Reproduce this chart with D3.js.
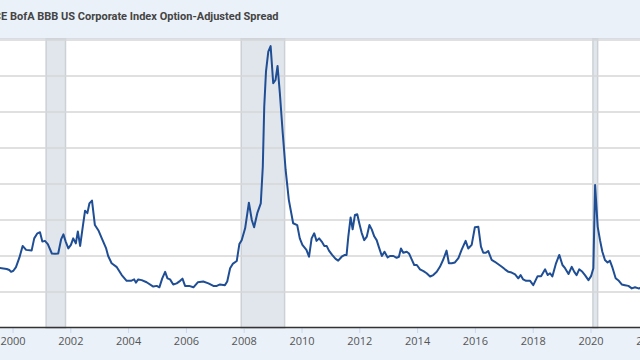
<!DOCTYPE html>
<html>
<head>
<meta charset="utf-8">
<script src="https://cdn.jsdelivr.net/npm/d3@7"></script>
<style>
  html, body { margin: 0; padding: 0; background: #eaf1f9; }
  svg { display: block; }
</style>
</head>
<body>
<div id="chart-container"></div>
<script>
// --- 1. DATA ---
const chartTitle = "ICE BofA BBB US Corporate Index Option-Adjusted Spread";

// decimal years
const dates = [
  1999.55, 1999.80, 1999.89, 1999.95, 2000.03, 2000.12, 2000.24, 2000.35, 2000.47, 2000.66,
  2000.75, 2000.86, 2000.95, 2001.03, 2001.12, 2001.22, 2001.36, 2001.47, 2001.58, 2001.68,
  2001.76, 2001.84, 2001.93, 2002.02, 2002.10, 2002.19, 2002.26, 2002.34, 2002.43, 2002.51,
  2002.59, 2002.66, 2002.75, 2002.85, 2002.98, 2003.09, 2003.24, 2003.31, 2003.43, 2003.61,
  2003.78, 2003.95, 2004.10, 2004.21, 2004.27, 2004.35, 2004.47, 2004.64, 2004.87, 2004.99,
  2005.08, 2005.18, 2005.28, 2005.36, 2005.45, 2005.56, 2005.68, 2005.80, 2005.88, 2005.97,
  2006.11, 2006.26, 2006.41, 2006.60, 2006.78, 2006.95, 2007.07, 2007.18, 2007.35, 2007.43,
  2007.53, 2007.62, 2007.76, 2007.85, 2007.93, 2008.05, 2008.18, 2008.28, 2008.36, 2008.47,
  2008.59, 2008.66, 2008.71, 2008.77, 2008.85, 2008.93, 2009.02, 2009.10, 2009.17, 2009.25,
  2009.35, 2009.45, 2009.56, 2009.71, 2009.85, 2009.94, 2010.03, 2010.17, 2010.26, 2010.35,
  2010.44, 2010.52, 2010.61, 2010.70, 2010.79, 2010.87, 2010.95, 2011.06, 2011.18, 2011.27,
  2011.39, 2011.50, 2011.56, 2011.62, 2011.70, 2011.77, 2011.85, 2011.93, 2012.00, 2012.08,
  2012.17, 2012.26, 2012.35, 2012.43, 2012.52, 2012.60, 2012.68, 2012.78, 2012.87, 2012.98,
  2013.06, 2013.18, 2013.29, 2013.37, 2013.44, 2013.52, 2013.64, 2013.72, 2013.82, 2013.90,
  2013.99, 2014.10, 2014.22, 2014.33, 2014.45, 2014.56, 2014.68, 2014.79, 2014.91, 2015.02,
  2015.10, 2015.20, 2015.31, 2015.43, 2015.54, 2015.68, 2015.77, 2015.89, 2016.00, 2016.12,
  2016.21, 2016.29, 2016.38, 2016.46, 2016.58, 2016.69, 2016.81, 2016.93, 2017.04, 2017.16,
  2017.27, 2017.39, 2017.50, 2017.58, 2017.67, 2017.77, 2017.91, 2018.02, 2018.17, 2018.29,
  2018.43, 2018.52, 2018.60, 2018.68, 2018.80, 2018.92, 2019.03, 2019.12, 2019.24, 2019.35,
  2019.44, 2019.52, 2019.61, 2019.72, 2019.81, 2019.93, 2020.02, 2020.10, 2020.16, 2020.25,
  2020.33, 2020.41, 2020.50, 2020.59, 2020.67, 2020.75, 2020.87, 2020.98, 2021.08, 2021.19,
  2021.31, 2021.43, 2021.54, 2021.66, 2021.80
];

// spread, percent
const spread = [
  1.67, 1.64, 1.61, 1.56, 1.59, 1.69, 1.96, 2.28, 2.17, 2.15,
  2.49, 2.63, 2.66, 2.40, 2.42, 2.33, 2.07, 2.06, 2.07, 2.46,
  2.60, 2.40, 2.21, 2.31, 2.49, 2.35, 2.68, 2.28, 2.81, 3.26,
  3.19, 3.46, 3.54, 2.86, 2.70, 2.49, 2.21, 2.00, 1.80, 1.69,
  1.47, 1.31, 1.31, 1.35, 1.26, 1.35, 1.33, 1.27, 1.15, 1.17,
  1.13, 1.38, 1.56, 1.38, 1.35, 1.21, 1.24, 1.31, 1.37, 1.17,
  1.17, 1.13, 1.27, 1.29, 1.24, 1.17, 1.17, 1.21, 1.19, 1.29,
  1.66, 1.78, 1.86, 2.33, 2.44, 2.77, 3.48, 3.00, 2.80, 3.19,
  3.46, 4.48, 6.15, 7.12, 7.68, 7.83, 6.80, 6.89, 7.28, 6.52,
  5.41, 4.39, 3.56, 2.91, 2.86, 2.49, 2.31, 2.17, 1.98, 2.49,
  2.63, 2.42, 2.49, 2.40, 2.28, 2.28, 2.15, 2.03, 1.92, 1.87,
  1.98, 2.03, 2.03, 2.54, 3.07, 2.74, 3.14, 3.16, 2.91, 2.65,
  2.44, 2.54, 2.86, 2.74, 2.54, 2.44, 2.24, 2.00, 2.12, 1.96,
  2.00, 2.00, 1.95, 1.98, 2.21, 2.09, 2.12, 2.07, 1.89, 1.75,
  1.75, 1.63, 1.58, 1.52, 1.43, 1.47, 1.56, 1.70, 1.91, 2.15,
  1.80, 1.80, 1.82, 1.94, 2.17, 2.42, 2.21, 2.31, 2.80, 2.81,
  2.26, 2.09, 2.09, 2.14, 1.89, 1.84, 1.77, 1.70, 1.63, 1.56,
  1.54, 1.49, 1.38, 1.47, 1.35, 1.31, 1.31, 1.19, 1.44, 1.44,
  1.63, 1.47, 1.52, 1.43, 1.78, 2.03, 1.75, 1.66, 1.50, 1.70,
  1.56, 1.47, 1.63, 1.56, 1.47, 1.33, 1.44, 1.66, 3.97, 2.81,
  2.44, 2.12, 1.89, 1.82, 1.87, 1.70, 1.38, 1.31, 1.21, 1.19,
  1.17, 1.10, 1.13, 1.10, 1.12
];

const recessionStarts = ["2001-03-01", "2007-12-01", "2020-02-01"];
const recessionEnds   = ["2001-11-01", "2009-06-01", "2020-04-01"];

const yTicks = [1, 2, 3, 4, 5, 6, 7, 8];

// --- 2. LAYOUT ---
const width = 640, height = 360;
const plotTop = 39, plotBottom = 328;
const lineColor = "#1f4e95";

function yearToDate(t) {
    const y = Math.floor(t);
    const a = new Date(y, 0, 1), b = new Date(y + 1, 0, 1);
    return new Date(+a + (t - y) * (b - a));
}

const parseDay = d3.timeParse("%Y-%m-%d");
const data = dates.map((t, k) => ({ date: yearToDate(t), value: spread[k] }));

// the original plot is wider than the window; only the middle is visible
const x = d3.scaleTime()
    .domain([new Date(2000, 0, 1), new Date(2022, 0, 1)])
    .range([12.5, 648.3]);

const y = d3.scaleLinear()
    .domain([0, 8])
    .range([plotBottom, 40]);

// --- 3. DRAW ---
const svg = d3.select("#chart-container").append("svg")
    .attr("width", width)
    .attr("height", height)
    .attr("viewBox", [0, 0, width, height]);

svg.append("rect")
    .attr("width", width).attr("height", height)
    .attr("fill", "#eaf1f9");

svg.append("line")
    .attr("x1", 0).attr("x2", width)
    .attr("y1", 38.5).attr("y2", 38.5)
    .attr("stroke", "#d5dde6");

svg.append("rect")
    .attr("x", 0).attr("y", plotTop)
    .attr("width", width).attr("height", plotBottom - plotTop)
    .attr("fill", "#fff");

svg.append("text")
    .attr("x", 278.5)
    .attr("y", 20)
    .attr("text-anchor", "end")
    .style("font", "bold 11px Roboto, sans-serif")
    .attr("fill", "#444")
    .text(chartTitle);

// recession bars
svg.append("g")
    .selectAll("rect")
    .data(recessionStarts.map((s, k) => [parseDay(s), parseDay(recessionEnds[k])]))
    .join("rect")
    .attr("x", d => x(d[0]))
    .attr("width", d => x(d[1]) - x(d[0]))
    .attr("y", plotTop)
    .attr("height", plotBottom - plotTop)
    .attr("fill", "#e1e6ec")
    .attr("stroke", "#cdd1d6")
    .attr("stroke-width", 1.5);

// gridlines
svg.append("g")
    .selectAll("line")
    .data(yTicks)
    .join("line")
    .attr("x1", 0).attr("x2", width)
    .attr("y1", d => y(d)).attr("y2", d => y(d))
    .attr("stroke", "#d6d6d6")
    .attr("stroke-width", 1.5);

// series
svg.append("path")
    .datum(data)
    .attr("fill", "none")
    .attr("stroke", lineColor)
    .attr("stroke-width", 2)
    .attr("stroke-linejoin", "round")
    .attr("d", d3.line().x(d => x(d.date)).y(d => y(d.value)));

// x axis
const xAxis = svg.append("g")
    .attr("transform", `translate(0,${plotBottom})`)
    .call(d3.axisBottom(x)
        .ticks(d3.timeYear.every(2))
        .tickFormat(d3.timeFormat("%Y"))
        .tickSize(5)
        .tickPadding(4));

xAxis.select(".domain").remove();
xAxis.selectAll(".tick line").attr("stroke", "#ccd6eb");
xAxis.selectAll(".tick text")
    .style("font", "11px 'Open Sans', sans-serif")
    .attr("fill", "#555");

svg.append("line")
    .attr("x1", 0).attr("x2", width)
    .attr("y1", plotBottom - 0.5).attr("y2", plotBottom - 0.5)
    .attr("stroke", "#333")
    .attr("stroke-width", 1.5);
</script>
</body>
</html>
